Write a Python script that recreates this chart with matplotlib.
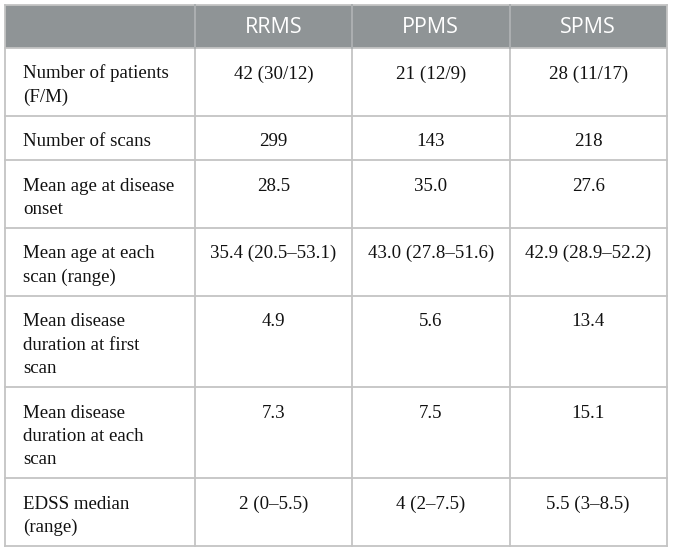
import matplotlib
matplotlib.use("Agg")
import matplotlib.pyplot as plt
from matplotlib.patches import Rectangle

columns = ["RRMS", "PPMS", "SPMS"]
row_labels = [
    "Number of patients\n(F/M)",
    "Number of scans",
    "Mean age at disease\nonset",
    "Mean age at each\nscan (range)",
    "Mean disease\nduration at first\nscan",
    "Mean disease\nduration at each\nscan",
    "EDSS median\n(range)",
]
rrms = ["42 (30/12)", "299", "28.5", "35.4 (20.5\u201353.1)", "4.9", "7.3", "2 (0\u20135.5)"]
ppms = ["21 (12/9)", "143", "35.0", "43.0 (27.8\u201351.6)", "5.6", "7.5", "4 (2\u20137.5)"]
spms = ["28 (11/17)", "218", "27.6", "42.9 (28.9\u201352.2)", "13.4", "15.1", "5.5 (3\u20138.5)"]

W, H = 673, 552
fig = plt.figure(figsize=(W / 100, H / 100), dpi=100)
ax = fig.add_axes([0, 0, 1, 1])
ax.set_xlim(0, W)
ax.set_ylim(H, 0)
ax.axis("off")

col_x = [5, 195, 352, 509.5, 667]
top = 4.5
header_h = 43.5
line_h = 23.5
base_h = 20.8
grid_color = "#c4c4c4"
header_color = "#8f9496"
text_color = "#111111"

# header
ax.add_patch(Rectangle((col_x[0], top), col_x[-1] - col_x[0], header_h,
                       facecolor=header_color, edgecolor="none", zorder=1))
for i, c in enumerate(columns):
    cx = (col_x[i + 1] + col_x[i + 2]) / 2
    ax.text(cx, top + header_h / 2 + 1, c, ha="center", va="center",
            color="white", fontsize=15.5, family="Open Sans", zorder=3)

# body rows
y = top + header_h
row_tops = []
for r, lab in enumerate(row_labels):
    n = lab.count("\n") + 1
    h = base_h + line_h * n
    row_tops.append((y, h))
    lines = lab.split("\n")
    for k, ln in enumerate(lines):
        ax.text(col_x[0] + 18, y + 30.5 + k * line_h, ln, ha="left", va="baseline",
                fontsize=13.6, family="Liberation Serif", color=text_color, zorder=3)
    for j, vals in enumerate([rrms, ppms, spms]):
        cx = (col_x[j + 1] + col_x[j + 2]) / 2
        ax.text(cx, y + 30.5, vals[r], ha="center", va="baseline",
                fontsize=13.6, family="Liberation Serif", color=text_color, zorder=3)
    y += h
bottom = y

# grid lines
lw = 1.3
for (yt, h) in row_tops[1:]:
    ax.plot([col_x[0], col_x[-1]], [yt, yt], color=grid_color, lw=lw, zorder=2)
for yy in (top, top + header_h, bottom):
    ax.plot([col_x[0], col_x[-1]], [yy, yy], color=grid_color, lw=lw, zorder=2)
for x in col_x:
    ax.plot([x, x], [top, bottom], color=grid_color, lw=lw, zorder=2)
for x in col_x[1:-1]:
    ax.plot([x, x], [top, top + header_h], color="#a9adaf", lw=lw, zorder=2.5)

fig.savefig("out.png", dpi=100, facecolor="white")
